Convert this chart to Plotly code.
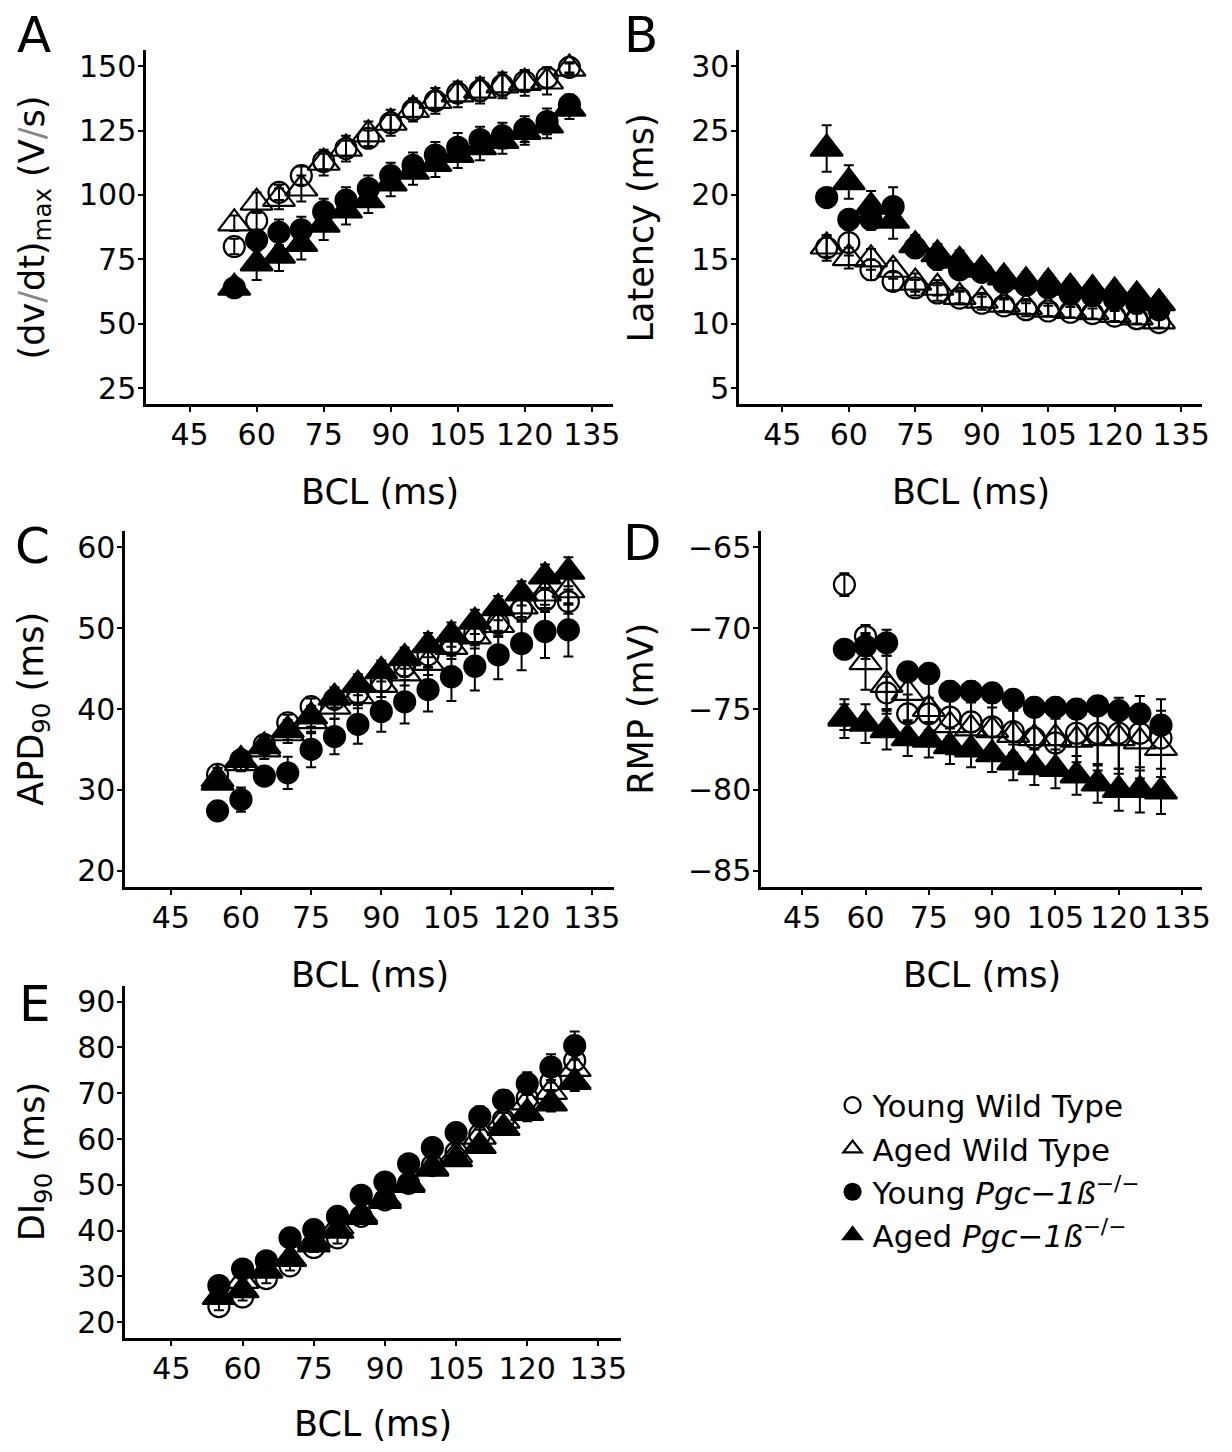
import plotly.graph_objects as go

# ---------------- data ----------------
BCL = [55, 60, 65, 70, 75, 80, 85, 90, 95, 100, 105, 110, 115, 120, 125, 130]
groups = ["Young Wild Type", "Aged Wild Type",
          "Young <i>Pgc\u22121\u00df</i><sup>\u2212/\u2212</sup>",
          "Aged <i>Pgc\u22121\u00df</i><sup>\u2212/\u2212</sup>"]

# Panel A: (dV/dt)max (V/s)
A_ywt = [80, 90, 101, 107.5, 113, 118, 122, 128, 133, 136.5, 139.5, 140.5, 142.5, 144, 145.5, 149.5]
A_awt = [89, 97, 98.5, 102.5, 112.5, 118, 123.5, 128, 133, 136.5, 139, 140.5, 142.5, 143.5, 144, 149]
A_yko = [64, 82.5, 85.5, 86.5, 93.5, 98, 102.5, 107.5, 111.5, 115.5, 118.5, 121.5, 123, 125.5, 128.5, 135]
A_ako = [64, 73.5, 76.5, 81, 88.5, 94, 98, 104.5, 109, 112, 115.5, 118.5, 121, 124.5, 127, 133.5]
A_ywt_e = [3, 3.5, 3, 3.5, 3, 3, 3, 3, 3, 3.5, 3.5, 4, 4, 4, 4, 2]
A_awt_e = [3, 4, 4, 5, 5, 5, 5, 5, 4.5, 5, 5, 5, 5, 5, 5, 2]
A_yko_e = [3, 4, 5, 5, 5, 5, 5, 5, 5, 5, 5.5, 5, 5, 5, 5, 4]
A_ako_e = [3, 6.5, 6, 6, 6, 5.5, 5, 5, 5, 5, 5, 5, 5, 5, 5, 4]

# Panel B: Latency (ms)
B_ywt = [15.9, 16.3, 14.2, 13.3, 12.8, 12.4, 12.0, 11.6, 11.4, 11.1, 11.0, 10.9, 10.8, 10.6, 10.4, 10.1]
B_awt = [16.0, 15.1, 15.0, 14.2, 13.2, 12.8, 12.1, 11.8, 11.5, 11.3, 11.1, 11.0, 10.9, 10.7, 10.5, 10.2]
B_yko = [19.8, 18.1, 18.1, 19.1, 15.9, 15.0, 14.2, 14.0, 13.2, 13.0, 12.8, 12.3, 12.2, 11.9, 11.6, 11.1]
B_ako = [23.6, 21.0, 19.1, 18.0, 16.1, 15.4, 14.9, 14.2, 13.6, 13.3, 13.2, 12.8, 12.7, 12.5, 12.2, 11.6]
B_ywt_e = [1.0, 1.0, 0.8, 0.7, 0.6, 0.6, 0.5, 0.5, 0.5, 0.5, 0.4, 0.4, 0.4, 0.4, 0.4, 0.4]
B_awt_e = [0.8, 0.8, 0.8, 0.7, 0.7, 0.6, 0.5, 0.5, 0.5, 0.5, 0.5, 0.5, 0.5, 0.5, 0.5, 0.5]
B_yko_e = [0.3, 0.4, 0.8, 1.5, 0.8, 0.8, 0.7, 0.7, 0.7, 0.7, 0.7, 0.7, 0.6, 0.6, 0.6, 0.6]
B_ako_e = [1.8, 1.3, 1.2, 1.4, 0.8, 0.8, 0.8, 0.7, 0.7, 0.7, 0.7, 0.7, 0.6, 0.6, 0.6, 0.6]

# Panel C: APD90 (ms)
C_ywt = [31.9, 33.7, 35.6, 38.3, 40.3, 41.2, 42.0, 43.4, 45.3, 46.7, 48.1, 49.4, 50.6, 52.3, 53.5, 53.3]
C_awt = [31.3, 33.3, 35.0, 37.0, 38.5, 40.3, 41.6, 43.0, 44.4, 45.7, 47.7, 49.0, 50.4, 52.7, 54.3, 54.7]
C_yko = [27.4, 28.8, 31.7, 32.1, 35.0, 36.6, 38.1, 39.7, 40.9, 42.4, 44.0, 45.3, 46.7, 48.1, 49.6, 49.8]
C_ako = [30.9, 33.7, 35.4, 37.4, 39.1, 41.4, 43.0, 44.7, 46.3, 47.9, 49.2, 50.8, 52.5, 54.3, 56.4, 57.0]
C_ywt_e = [0.8, 0.8, 1.0, 1.0, 1.0, 1.0, 1.2, 1.2, 1.3, 1.5, 1.5, 1.5, 1.5, 1.5, 1.5, 1.5]
C_awt_e = [1.0, 1.0, 1.2, 1.2, 1.5, 1.5, 1.5, 1.5, 1.5, 1.5, 1.5, 1.5, 1.5, 1.8, 1.8, 1.8]
C_yko_e = [0.5, 1.5, 0.8, 2.0, 2.2, 2.2, 2.4, 2.5, 2.7, 2.7, 3.0, 3.0, 3.0, 3.3, 3.3, 3.3]
C_ako_e = [0.8, 0.8, 1.0, 1.2, 1.3, 1.3, 1.3, 1.3, 1.3, 1.5, 1.5, 1.5, 1.5, 1.5, 1.5, 1.8]

# Panel D: RMP (mV)
D_ywt = [-67.3, -70.5, -74.0, -75.3, -75.3, -75.5, -75.8, -76.1, -76.4, -76.8, -77.1, -76.5, -76.5, -76.5, -76.5, -76.8]
D_awt = [-75.5, -72.1, -73.5, -74.0, -75.0, -76.0, -76.2, -76.3, -76.6, -76.8, -76.8, -76.9, -76.8, -76.8, -77.0, -77.4]
D_yko = [-71.3, -71.1, -70.9, -72.7, -72.8, -73.9, -73.9, -74.0, -74.4, -74.9, -74.9, -75.0, -74.8, -75.1, -75.3, -76.0]
D_ako = [-75.6, -75.9, -76.3, -76.8, -76.9, -77.3, -77.5, -77.8, -78.3, -78.6, -78.7, -79.1, -79.6, -80.0, -80.0, -80.1]
D_ywt_e = [0.7, 0.7, 1.0, 1.2, 1.0, 1.2, 1.2, 1.2, 1.3, 1.3, 1.5, 1.8, 2.0, 2.2, 2.3, 2.4]
D_awt_e = [0.8, 1.7, 1.8, 1.8, 1.8, 1.8, 1.7, 1.7, 1.8, 1.8, 1.8, 1.8, 2.0, 2.2, 2.3, 2.3]
D_yko_e = [0.3, 0.8, 0.8, 0.6, 0.6, 0.6, 0.6, 0.6, 0.6, 0.6, 0.6, 0.6, 0.6, 0.6, 0.6, 0.6]
D_ako_e = [1.2, 1.2, 1.2, 1.1, 1.1, 1.1, 1.1, 1.1, 1.1, 1.1, 1.2, 1.2, 1.2, 1.3, 1.4, 1.4]

# Panel E: DI90 (ms)
E_ywt = [23.4, 25.5, 29.5, 32.3, 36.3, 38.4, 43.1, 46.7, 50.3, 54.2, 57.1, 61.0, 64.2, 68.9, 72.5, 77.1]
E_awt = [25.5, 29.0, 31.3, 33.8, 37.7, 40.9, 43.4, 47.0, 50.3, 53.8, 56.5, 60.5, 64.0, 68.0, 70.3, 75.3]
E_yko = [28.0, 31.6, 33.4, 38.4, 40.2, 43.1, 47.7, 50.6, 54.6, 58.1, 61.4, 64.9, 68.5, 72.1, 75.7, 80.4]
E_ako = [25.5, 27.0, 31.3, 33.8, 37.0, 40.0, 43.0, 46.5, 50.0, 53.5, 55.6, 58.5, 62.4, 65.7, 67.8, 72.5]
E_ywt_e = [0.8, 0.8, 1.0, 1.0, 1.0, 1.2, 1.2, 1.2, 1.3, 1.3, 1.5, 1.5, 1.5, 1.8, 1.8, 2.0]
E_awt_e = [0.8, 1.0, 1.0, 1.0, 1.2, 1.2, 1.2, 1.3, 1.3, 1.5, 1.5, 1.5, 1.8, 1.8, 2.0, 2.0]
E_yko_e = [1.0, 1.0, 1.2, 1.2, 1.3, 1.5, 1.5, 1.8, 1.8, 2.0, 2.0, 2.2, 2.2, 2.5, 2.8, 3.1]
E_ako_e = [0.8, 0.8, 1.0, 1.0, 1.0, 1.2, 1.2, 1.2, 1.3, 1.3, 1.5, 1.5, 1.5, 1.8, 1.8, 2.0]

x_ticks = [45, 60, 75, 90, 105, 120, 135]
A_ticks = [25, 50, 75, 100, 125, 150]
B_ticks = [5, 10, 15, 20, 25, 30]
C_ticks = [20, 30, 40, 50, 60]
D_ticks = [-85, -80, -75, -70, -65]
E_ticks = [20, 30, 40, 50, 60, 70, 80, 90]

# ---------------- layout helpers ----------------
W, H = 1232, 1452
FONT = "DejaVu Sans"

def px_x(p):
    return p / W

def px_y(p):
    return 1 - p / H

# panel boxes in pixels: (left, right, top, bottom)
boxes = {
    "A": (147, 617, 49, 404),
    "B": (744, 1210, 49, 404),
    "C": (126, 618, 531, 887),
    "D": (766, 1210, 531, 887),
    "E": (126, 625, 986, 1339),
}

symbols = ["circle-open", "triangle-up-open", "circle", "triangle-up"]
sizes = [21, 28, 21, 28]

panels = [
    ("A", [A_ywt, A_awt, A_yko, A_ako], [A_ywt_e, A_awt_e, A_yko_e, A_ako_e], A_ticks, [18.75, 156.25]),
    ("B", [B_ywt, B_awt, B_yko, B_ako], [B_ywt_e, B_awt_e, B_yko_e, B_ako_e], B_ticks, [3.75, 31.25]),
    ("C", [C_ywt, C_awt, C_yko, C_ako], [C_ywt_e, C_awt_e, C_yko_e, C_ako_e], C_ticks, [18, 62]),
    ("D", [D_ywt, D_awt, D_yko, D_ako], [D_ywt_e, D_awt_e, D_yko_e, D_ako_e], D_ticks, [-86, -64]),
    ("E", [E_ywt, E_awt, E_yko, E_ako], [E_ywt_e, E_awt_e, E_yko_e, E_ako_e], E_ticks, [16.5, 93.5]),
]

fig = go.Figure()
layout = {}
axis_common = dict(
    showline=True, linecolor="black", linewidth=2.5,
    ticks="outside", ticklen=5, tickwidth=2, tickcolor="black",
    showgrid=False, zeroline=False,
    tickfont=dict(family=FONT, size=30, color="black"),
)

for i, (name, series, errs, yt, yr) in enumerate(panels):
    n = "" if i == 0 else str(i + 1)
    l, r, t, b = boxes[name]
    layout["xaxis" + n] = dict(axis_common, domain=[px_x(l), px_x(r)], range=[35.25, 139.75],
                               tickvals=x_ticks, anchor="y" + n, ticklabelstandoff=-3)
    layout["yaxis" + n] = dict(axis_common, domain=[px_y(b), px_y(t)], range=yr,
                               tickvals=yt, anchor="x" + n, ticklabelstandoff=-4)
    for g in range(4):
        fig.add_trace(go.Scatter(
            x=BCL, y=series[g], mode="markers", name=groups[g],
            legendgroup=str(g), showlegend=(i == 0),
            xaxis="x" + n, yaxis="y" + n,
            marker=dict(symbol=symbols[g], size=sizes[g], color="black",
                        line=dict(color="black", width=2.2)),
            error_y=dict(type="data", array=errs[g], color="black", thickness=2, width=5),
        ))

fig.update_layout(**layout)

annotations = []
def ann(text, xpx, ypx, size, angle=0):
    annotations.append(dict(text=text, x=px_x(xpx), y=px_y(ypx), xref="paper", yref="paper",
                            showarrow=False, textangle=angle, xanchor="center", yanchor="middle",
                            font=dict(family=FONT, size=size, color="black")))

# panel letters
ann("A", 34, 34, 50)
ann("B", 645, 34, 50)
ann("C", 33, 546, 50)
ann("D", 647, 543, 50)
ann("E", 35, 1004, 50)

# x-axis titles
for name, ypx in [("A", 492), ("B", 492), ("C", 975), ("D", 975), ("E", 1425)]:
    l, r, t, b = boxes[name]
    ann("BCL (ms)", (l + r) / 2, ypx, 35)

# y-axis titles
slash = "<span style='color:#888888'>/</span>"
ann("(dv" + slash + "dt)<sub>max</sub> (V" + slash + "s)", 35, 227, 35, -90)
ann("Latency (ms)", 645, 227, 35, -90)
ann("APD<sub>90</sub> (ms)", 33, 709, 35, -90)
ann("RMP (mV)", 645, 709, 35, -90)
ann("DI<sub>90</sub> (ms)", 35, 1162, 35, -90)

fig.update_layout(
    width=W, height=H,
    margin=dict(l=0, r=0, t=0, b=0),
    paper_bgcolor="white", plot_bgcolor="white",
    annotations=annotations,
    showlegend=True,
    legend=dict(x=px_x(838), y=px_y(1079), xanchor="left", yanchor="top",
                font=dict(family=FONT, size=31, color="black"),
                bgcolor="rgba(0,0,0,0)", tracegroupgap=0, itemsizing="trace"),
)

fig.write_html("out.html", config={"displayModeBar": False},
               post_script="document.body.style.margin='0';")
